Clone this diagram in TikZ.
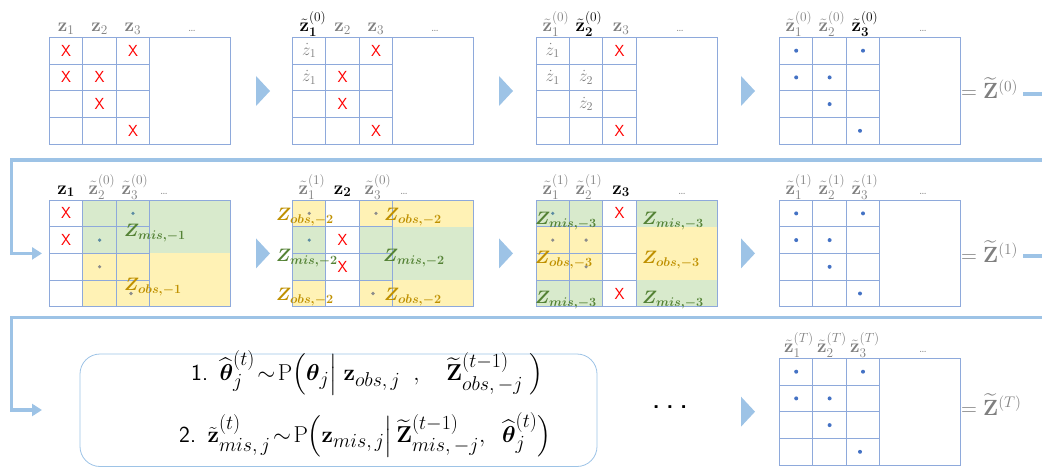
\RequirePackage{fix-cm}
\documentclass[tikz,border=0pt]{standalone}
\usepackage{amsmath, amssymb}
\usepackage{tikz}
\usetikzlibrary{arrows.meta}
\DeclareMathSizes{23}{23}{20}{15}
\definecolor{gridblue}{HTML}{8EA9DB}
\definecolor{flowblue}{HTML}{9DC3E6}
\definecolor{xred}{HTML}{FF0000}
\definecolor{labelgray}{HTML}{7F7F7F}
\definecolor{dotblue}{HTML}{4472C4}
\definecolor{dotteal}{HTML}{5B8BA3}
\definecolor{dotgray}{HTML}{8C8C8C}
\definecolor{misfill}{HTML}{D8EACC}
\definecolor{obsfill}{HTML}{FFF2B5}
\definecolor{misgreen}{HTML}{548235}
\definecolor{obsgold}{HTML}{BF9000}
\begin{document}
\begin{tikzpicture}[x=1pt, y=-1pt,
  cellline/.style={draw=gridblue, line width=0.9pt},
  flow/.style={draw=flowblue, line width=3.2pt},
  chevron/.style={fill=flowblue},
  xmark/.style={text=xred, font=\sffamily\fontsize{16}{16}\selectfont, inner sep=0pt},
  fillval/.style={text=labelgray, font=\fontsize{17}{17}\selectfont, inner sep=0pt},
  collabel/.style={text=labelgray, anchor=base, font=\fontsize{19}{19}\selectfont, inner sep=0pt},
  curlabel/.style={collabel, text=black},
  moredots/.style={text=labelgray, anchor=base, font=\fontsize{12}{12}\selectfont, inner sep=0pt},
  misl/.style={text=misgreen, anchor=west, font=\fontsize{18}{18}\selectfont, inner sep=0pt},
  obsl/.style={text=obsgold, anchor=west, font=\fontsize{18}{18}\selectfont, inner sep=0pt},
  result/.style={text=labelgray, anchor=base west, font=\fontsize{22}{22}\selectfont, inner sep=0pt},
  formula/.style={anchor=west, font=\fontsize{23}{23}\selectfont, inner sep=0pt},
  stepbox/.style={draw=flowblue, line width=0.8pt, rounded corners=20pt}]
  \useasboundingbox (0,0) rectangle (1042,468);
  \draw[cellline] (49.5,37.3) rectangle (230.5,144.1);
  \draw[cellline] (82.9,37.3) -- (82.9,144.1) (116.3,37.3) -- (116.3,144.1) (149.7,37.3) -- (149.7,144.1);
  \draw[cellline] (49.5,64) -- (149.7,64) (49.5,90.7) -- (149.7,90.7) (49.5,117.4) -- (149.7,117.4);
  \node[collabel] (g1c1) at (66.2,31.3) {$\mathbf{z}_1$};
  \node[collabel] (g1c2) at (99.6,31.3) {$\mathbf{z}_2$};
  \node[collabel] (g1c3) at (133,31.3) {$\mathbf{z}_3$};
  \node[moredots] (g1more) at (192,31.3) {\ldots};
  \node[xmark] (g1x1) at (66.2,50.7) {X};
  \node[xmark] (g1x2) at (133,50.7) {X};
  \node[xmark] (g1x3) at (66.2,77.4) {X};
  \node[xmark] (g1x4) at (99.6,77.4) {X};
  \node[xmark] (g1x5) at (99.6,104.1) {X};
  \node[xmark] (g1x6) at (133,130.8) {X};
  \fill[chevron] (256,76) -- (270,91) -- (256,106) -- cycle;
  \draw[cellline] (292.5,37.3) rectangle (473.5,144.1);
  \draw[cellline] (325.9,37.3) -- (325.9,144.1) (359.3,37.3) -- (359.3,144.1) (392.7,37.3) -- (392.7,144.1);
  \draw[cellline] (292.5,64) -- (392.7,64) (292.5,90.7) -- (392.7,90.7) (292.5,117.4) -- (392.7,117.4);
  \node[curlabel] (g2c1) at (313,31.3) {$\tilde{\mathbf{z}}_{\mathbf{1}}^{(0)}$};
  \node[collabel] (g2c2) at (342.6,31.3) {$\mathbf{z}_2$};
  \node[collabel] (g2c3) at (376,31.3) {$\mathbf{z}_3$};
  \node[moredots] (g2more) at (435,31.3) {\ldots};
  \node[fillval] (g2v1) at (309.2,50.7) {$\dot{z}_1$};
  \node[fillval] (g2v2) at (309.2,77.4) {$\dot{z}_1$};
  \node[xmark] (g2x1) at (376,50.7) {X};
  \node[xmark] (g2x2) at (342.6,77.4) {X};
  \node[xmark] (g2x3) at (342.6,104.1) {X};
  \node[xmark] (g2x4) at (376,130.8) {X};
  \fill[chevron] (499,76) -- (513,91) -- (499,106) -- cycle;
  \draw[cellline] (536,37.3) rectangle (717,144.1);
  \draw[cellline] (569.4,37.3) -- (569.4,144.1) (602.8,37.3) -- (602.8,144.1) (636.2,37.3) -- (636.2,144.1);
  \draw[cellline] (536,64) -- (636.2,64) (536,90.7) -- (636.2,90.7) (536,117.4) -- (636.2,117.4);
  \node[collabel] (g3c1) at (556,31.3) {$\tilde{\mathbf{z}}_1^{(0)}$};
  \node[curlabel] (g3c2) at (589,31.3) {$\tilde{\mathbf{z}}_{\mathbf{2}}^{(0)}$};
  \node[collabel] (g3c3) at (621,31.3) {$\mathbf{z}_3$};
  \node[moredots] (g3more) at (680,31.3) {\ldots};
  \node[fillval] (g3v1) at (552.7,50.7) {$\dot{z}_1$};
  \node[fillval] (g3v2) at (552.7,77.4) {$\dot{z}_1$};
  \node[fillval] (g3v3) at (586.1,77.4) {$\dot{z}_2$};
  \node[fillval] (g3v4) at (586.1,104.1) {$\dot{z}_2$};
  \node[xmark] (g3x1) at (619.5,50.7) {X};
  \node[xmark] (g3x2) at (619.5,130.8) {X};
  \fill[chevron] (741,76) -- (755,91) -- (741,106) -- cycle;
  \draw[cellline] (779.5,37.3) rectangle (960.5,144.1);
  \draw[cellline] (812.9,37.3) -- (812.9,144.1) (846.3,37.3) -- (846.3,144.1) (879.7,37.3) -- (879.7,144.1);
  \draw[cellline] (779.5,64) -- (879.7,64) (779.5,90.7) -- (879.7,90.7) (779.5,117.4) -- (879.7,117.4);
  \node[collabel] (g4c1) at (799,31.3) {$\tilde{\mathbf{z}}_1^{(0)}$};
  \node[collabel] (g4c2) at (832,31.3) {$\tilde{\mathbf{z}}_2^{(0)}$};
  \node[curlabel] (g4c3) at (865,31.3) {$\tilde{\mathbf{z}}_{\mathbf{3}}^{(0)}$};
  \node[moredots] (g4more) at (923,31.3) {\ldots};
  \fill[dotblue] (796.2,50.7) circle[radius=2pt] (863,50.7) circle[radius=2pt] (796.2,77.4) circle[radius=2pt];
  \fill[dotblue] (829.6,77.4) circle[radius=2pt] (829.6,104.1) circle[radius=2pt] (860,130.8) circle[radius=2pt];
  \node[result] (eqz0) at (961,99) {$=\widetilde{\mathbf{Z}}^{(0)}$};
  \coordinate (out0) at (1042,94);
  \draw[flow] ([xshift=5pt]eqz0.east |- out0) -- (out0);
  \coordinate (edge1) at (1042,160);
  \coordinate (turn1) at (11.5,160);
  \coordinate (in1) at (42,253.4);
  \draw[flow, -{Triangle[length=10pt,width=12pt]}] (edge1) -- (turn1) |- (in1);
  \fill[misfill] (82.9,200) rectangle (230.5,253.4);
  \fill[obsfill] (82.9,253.4) rectangle (230.5,306.8);
  \draw[cellline] (49.5,200) rectangle (230.5,306.8);
  \draw[cellline] (82.9,200) -- (82.9,306.8) (116.3,200) -- (116.3,306.8) (149.7,200) -- (149.7,306.8);
  \draw[cellline] (49.5,226.7) -- (149.7,226.7) (49.5,253.4) -- (149.7,253.4) (49.5,280.1) -- (149.7,280.1);
  \node[curlabel] (m1c1) at (66.2,194) {$\mathbf{z}_{\mathbf{1}}$};
  \node[collabel] (m1c2) at (102,194) {$\tilde{\mathbf{z}}_2^{(0)}$};
  \node[collabel] (m1c3) at (135,194) {$\tilde{\mathbf{z}}_3^{(0)}$};
  \node[moredots] (m1more) at (164,194) {\ldots};
  \node[xmark] (m1x1) at (66.2,213.4) {X};
  \node[xmark] (m1x2) at (66.2,240.1) {X};
  \fill[dotteal] (133,213.4) circle[radius=1.8pt] (99.6,240.1) circle[radius=1.8pt];
  \fill[dotgray] (99.6,266.8) circle[radius=1.8pt] (131,293.5) circle[radius=1.8pt];
  \node[misl] (m1mis) at (124,233) {$\boldsymbol{Z_{mis,-1}}$};
  \node[obsl] (m1obs) at (124,287) {$\boldsymbol{Z_{obs,-1}}$};
  \fill[chevron] (256,238.4) -- (270,253.4) -- (256,268.4) -- cycle;
  \fill[obsfill] (292.5,200) rectangle (325.9,226.7);
  \fill[misfill] (292.5,226.7) rectangle (325.9,280.1);
  \fill[obsfill] (292.5,280.1) rectangle (325.9,306.8);
  \fill[obsfill] (359.3,200) rectangle (473.5,226.7);
  \fill[misfill] (359.3,226.7) rectangle (473.5,280.1);
  \fill[obsfill] (359.3,280.1) rectangle (473.5,306.8);
  \draw[cellline] (292.5,200) rectangle (473.5,306.8);
  \draw[cellline] (325.9,200) -- (325.9,306.8) (359.3,200) -- (359.3,306.8) (392.7,200) -- (392.7,306.8);
  \draw[cellline] (292.5,226.7) -- (392.7,226.7) (292.5,253.4) -- (392.7,253.4) (292.5,280.1) -- (392.7,280.1);
  \node[collabel] (m2c1) at (312,194) {$\tilde{\mathbf{z}}_1^{(1)}$};
  \node[curlabel] (m2c2) at (342.6,194) {$\mathbf{z}_{\mathbf{2}}$};
  \node[collabel] (m2c3) at (378,194) {$\tilde{\mathbf{z}}_3^{(0)}$};
  \node[moredots] (m2more) at (404,194) {\ldots};
  \node[xmark] (m2x1) at (342.6,240.1) {X};
  \node[xmark] (m2x2) at (342.6,266.8) {X};
  \fill[dotgray] (309.2,213.4) circle[radius=1.8pt] (376,213.4) circle[radius=1.8pt] (373,293.5) circle[radius=1.8pt];
  \fill[dotteal] (309.2,240.1) circle[radius=1.8pt];
  \node[obsl] (m2obs1) at (276,217) {$\boldsymbol{Z_{obs,-2}}$};
  \node[misl] (m2mis1) at (276,258) {$\boldsymbol{Z_{mis,-2}}$};
  \node[obsl] (m2obs2) at (276,297) {$\boldsymbol{Z_{obs,-2}}$};
  \node[obsl] (m2obs3) at (384,217) {$\boldsymbol{Z_{obs,-2}}$};
  \node[misl] (m2mis2) at (383,258) {$\boldsymbol{Z_{mis,-2}}$};
  \node[obsl] (m2obs4) at (384,297) {$\boldsymbol{Z_{obs,-2}}$};
  \fill[chevron] (499,238.4) -- (513,253.4) -- (499,268.4) -- cycle;
  \fill[misfill] (536,200) rectangle (602.8,226.7);
  \fill[obsfill] (536,226.7) rectangle (602.8,280.1);
  \fill[misfill] (536,280.1) rectangle (602.8,306.8);
  \fill[misfill] (636.2,200) rectangle (717,226.7);
  \fill[obsfill] (636.2,226.7) rectangle (717,280.1);
  \fill[misfill] (636.2,280.1) rectangle (717,306.8);
  \draw[cellline] (536,200) rectangle (717,306.8);
  \draw[cellline] (569.4,200) -- (569.4,306.8) (602.8,200) -- (602.8,306.8) (636.2,200) -- (636.2,306.8);
  \draw[cellline] (536,226.7) -- (636.2,226.7) (536,253.4) -- (636.2,253.4) (536,280.1) -- (636.2,280.1);
  \node[collabel] (m3c1) at (556,194) {$\tilde{\mathbf{z}}_1^{(1)}$};
  \node[collabel] (m3c2) at (589,194) {$\tilde{\mathbf{z}}_2^{(1)}$};
  \node[curlabel] (m3c3) at (621,194) {$\mathbf{z}_{\mathbf{3}}$};
  \node[moredots] (m3more) at (682,194) {\ldots};
  \node[xmark] (m3x1) at (619.5,213.4) {X};
  \node[xmark] (m3x2) at (619.5,293.5) {X};
  \fill[dotteal] (552.7,213.4) circle[radius=1.8pt];
  \fill[dotgray] (552.7,240.1) circle[radius=1.8pt] (586.1,240.1) circle[radius=1.8pt] (586.1,266.8) circle[radius=1.8pt];
  \node[misl] (m3mis1) at (535,221) {$\boldsymbol{Z_{mis,-3}}$};
  \node[obsl] (m3obs1) at (535,260) {$\boldsymbol{Z_{obs,-3}}$};
  \node[misl] (m3mis2) at (535,300) {$\boldsymbol{Z_{mis,-3}}$};
  \node[misl] (m3mis3) at (642,221) {$\boldsymbol{Z_{mis,-3}}$};
  \node[obsl] (m3obs2) at (642,260) {$\boldsymbol{Z_{obs,-3}}$};
  \node[misl] (m3mis4) at (642,300) {$\boldsymbol{Z_{mis,-3}}$};
  \fill[chevron] (741,238.4) -- (755,253.4) -- (741,268.4) -- cycle;
  \draw[cellline] (779.5,200) rectangle (960.5,306.8);
  \draw[cellline] (812.9,200) -- (812.9,306.8) (846.3,200) -- (846.3,306.8) (879.7,200) -- (879.7,306.8);
  \draw[cellline] (779.5,226.7) -- (879.7,226.7) (779.5,253.4) -- (879.7,253.4) (779.5,280.1) -- (879.7,280.1);
  \node[collabel] (m4c1) at (799,194) {$\tilde{\mathbf{z}}_1^{(1)}$};
  \node[collabel] (m4c2) at (832,194) {$\tilde{\mathbf{z}}_2^{(1)}$};
  \node[collabel] (m4c3) at (865,194) {$\tilde{\mathbf{z}}_3^{(1)}$};
  \node[moredots] (m4more) at (923,194) {\ldots};
  \fill[dotblue] (796.2,213.4) circle[radius=2pt] (863,213.4) circle[radius=2pt] (796.2,240.1) circle[radius=2pt];
  \fill[dotblue] (829.6,240.1) circle[radius=2pt] (829.6,266.8) circle[radius=2pt] (860,293.5) circle[radius=2pt];
  \node[result] (eqz1) at (961,262) {$=\widetilde{\mathbf{Z}}^{(1)}$};
  \coordinate (out1) at (1042,256);
  \draw[flow] ([xshift=5pt]eqz1.east |- out1) -- (out1);
  \coordinate (edge2) at (1042,317.5);
  \coordinate (turn2) at (11.5,317.5);
  \coordinate (in2) at (42,410);
  \draw[flow, -{Triangle[length=10pt,width=12pt]}] (edge2) -- (turn2) |- (in2);
  \draw[stepbox] (80,354) rectangle (597,466.5);
  \node[formula] (step1) at (191,373) {\sffamily 1.\enspace $\widehat{\boldsymbol{\theta}}_j^{(t)}\!\sim\!\mathrm{P}\Bigl(\boldsymbol{\theta}_j\Big|\;\mathbf{z}_{obs,\,j}\;\;,\quad \widetilde{\mathbf{Z}}^{(t-1)}_{obs,\,-j}\;\Bigr)$};
  \node[formula] (step2) at (179,435) {\sffamily 2.\enspace $\tilde{\mathbf{z}}^{(t)}_{mis,\,j}\!\sim\!\mathrm{P}\Bigl(\mathbf{z}_{mis,\,j}\Big|\,\widetilde{\mathbf{Z}}^{(t-1)}_{mis,\,-j},\;\; \widehat{\boldsymbol{\theta}}_j^{(t)}\Bigr)$};
  \node[font=\sffamily\bfseries\fontsize{22}{22}\selectfont, inner sep=0pt] (skip) at (670,407) {.\hspace{7pt}.\hspace{7pt}.};
  \fill[chevron] (741,396.7) -- (755,411.7) -- (741,426.7) -- cycle;
  \draw[cellline] (779.5,358.3) rectangle (960.5,465.1);
  \draw[cellline] (812.9,358.3) -- (812.9,465.1) (846.3,358.3) -- (846.3,465.1) (879.7,358.3) -- (879.7,465.1);
  \draw[cellline] (779.5,385) -- (879.7,385) (779.5,411.7) -- (879.7,411.7) (779.5,438.4) -- (879.7,438.4);
  \node[collabel] (bc1) at (799,352.3) {$\tilde{\mathbf{z}}_1^{(T)}$};
  \node[collabel] (bc2) at (832,352.3) {$\tilde{\mathbf{z}}_2^{(T)}$};
  \node[collabel] (bc3) at (865,352.3) {$\tilde{\mathbf{z}}_3^{(T)}$};
  \node[moredots] (bmore) at (923,352.3) {\ldots};
  \fill[dotblue] (796.2,371.7) circle[radius=2pt] (863,371.7) circle[radius=2pt] (796.2,398.4) circle[radius=2pt];
  \fill[dotblue] (829.6,398.4) circle[radius=2pt] (829.6,425.1) circle[radius=2pt] (860,451.8) circle[radius=2pt];
  \node[result] (eqzt) at (961,415) {$=\widetilde{\mathbf{Z}}^{(T)}$};
\end{tikzpicture}
\end{document}
